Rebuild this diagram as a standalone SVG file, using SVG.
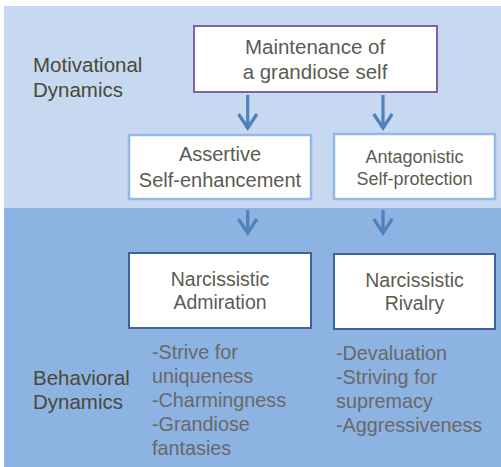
<svg xmlns="http://www.w3.org/2000/svg" width="501" height="467" viewBox="0 0 501 467">
  <defs>
    <style>
      text { font-family: "Liberation Sans", Arial, "DejaVu Sans", sans-serif; }
      .label { fill: #4a4838; font-size: 20.5px; }
      .box-text { fill: #5c5b52; text-anchor: middle; }
      .list { fill: #68686a; font-size: 19.8px; }
      .arrow { fill: none; stroke: #4f81bd; stroke-width: 3.2; stroke-linejoin: miter; }
      .node-rect { fill: #ffffff; }
    </style>
  </defs>

  <!-- panels -->
  <rect x="0" y="0" width="501" height="467" fill="#ffffff"/>
  <rect x="4" y="6" width="497" height="202" fill="#c6d9f1"/>
  <rect x="4" y="208" width="497" height="259" fill="#8db3e2"/>

  <!-- row labels -->
  <text class="label" x="33" y="72">Motivational</text>
  <text class="label" x="33" y="97">Dynamics</text>
  <text class="label" x="33" y="385">Behavioral</text>
  <text class="label" x="33" y="409">Dynamics</text>

  <!-- nodes -->
  <g id="maintenance">
    <rect class="node-rect" x="194" y="26" width="243" height="66" stroke="#8064a2" stroke-width="2"/>
    <text class="box-text" x="315" y="54" font-size="20.5">Maintenance of</text>
    <text class="box-text" x="315" y="79" font-size="20.5">a grandiose self</text>
  </g>

  <g id="assertive">
    <rect class="node-rect" x="129" y="135" width="182" height="64" stroke="#95b9e6" stroke-width="2.5"/>
    <text class="box-text" x="220" y="161" font-size="20">Assertive</text>
    <text class="box-text" x="220" y="187" font-size="20">Self-enhancement</text>
  </g>

  <g id="antagonistic">
    <rect class="node-rect" x="334" y="134" width="161" height="65" stroke="#95b9e6" stroke-width="2.5"/>
    <text class="box-text" x="414.5" y="163" font-size="18">Antagonistic</text>
    <text class="box-text" x="414.5" y="185" font-size="18">Self-protection</text>
  </g>

  <g id="admiration">
    <rect class="node-rect" x="129" y="253" width="182" height="75" stroke="#3c649b" stroke-width="2"/>
    <text class="box-text" x="220" y="286" font-size="19.5">Narcissistic</text>
    <text class="box-text" x="220" y="309" font-size="19.5">Admiration</text>
  </g>

  <g id="rivalry">
    <rect class="node-rect" x="334" y="254" width="161" height="75" stroke="#3c649b" stroke-width="2"/>
    <text class="box-text" x="414.5" y="287" font-size="19.5">Narcissistic</text>
    <text class="box-text" x="414.5" y="310" font-size="19.5">Rivalry</text>
  </g>

  <!-- behaviour lists -->
  <g id="admiration-list">
    <text class="list" x="152" y="359">-Strive for</text>
    <text class="list" x="152" y="383">uniqueness</text>
    <text class="list" x="152" y="407">-Charmingness</text>
    <text class="list" x="152" y="431">-Grandiose</text>
    <text class="list" x="152" y="455">fantasies</text>
  </g>
  <g id="rivalry-list">
    <text class="list" x="336" y="360">-Devaluation</text>
    <text class="list" x="336" y="384">-Striving for</text>
    <text class="list" x="336" y="408">supremacy</text>
    <text class="list" x="336" y="432">-Aggressiveness</text>
  </g>

  <!-- connectors: shaft plus open V head -->
  <g id="connectors" class="arrow">
    <path d="M247.7 95 V128 M238.5 114 L247.7 128 L256.9 114"/>
    <path d="M383 95 V128 M373.8 114 L383 128 L392.2 114"/>
    <path d="M247.7 210 V233 M238.5 219 L247.7 233 L256.9 219"/>
    <path d="M383 210 V233 M373.8 219 L383 233 L392.2 219"/>
  </g>
</svg>
